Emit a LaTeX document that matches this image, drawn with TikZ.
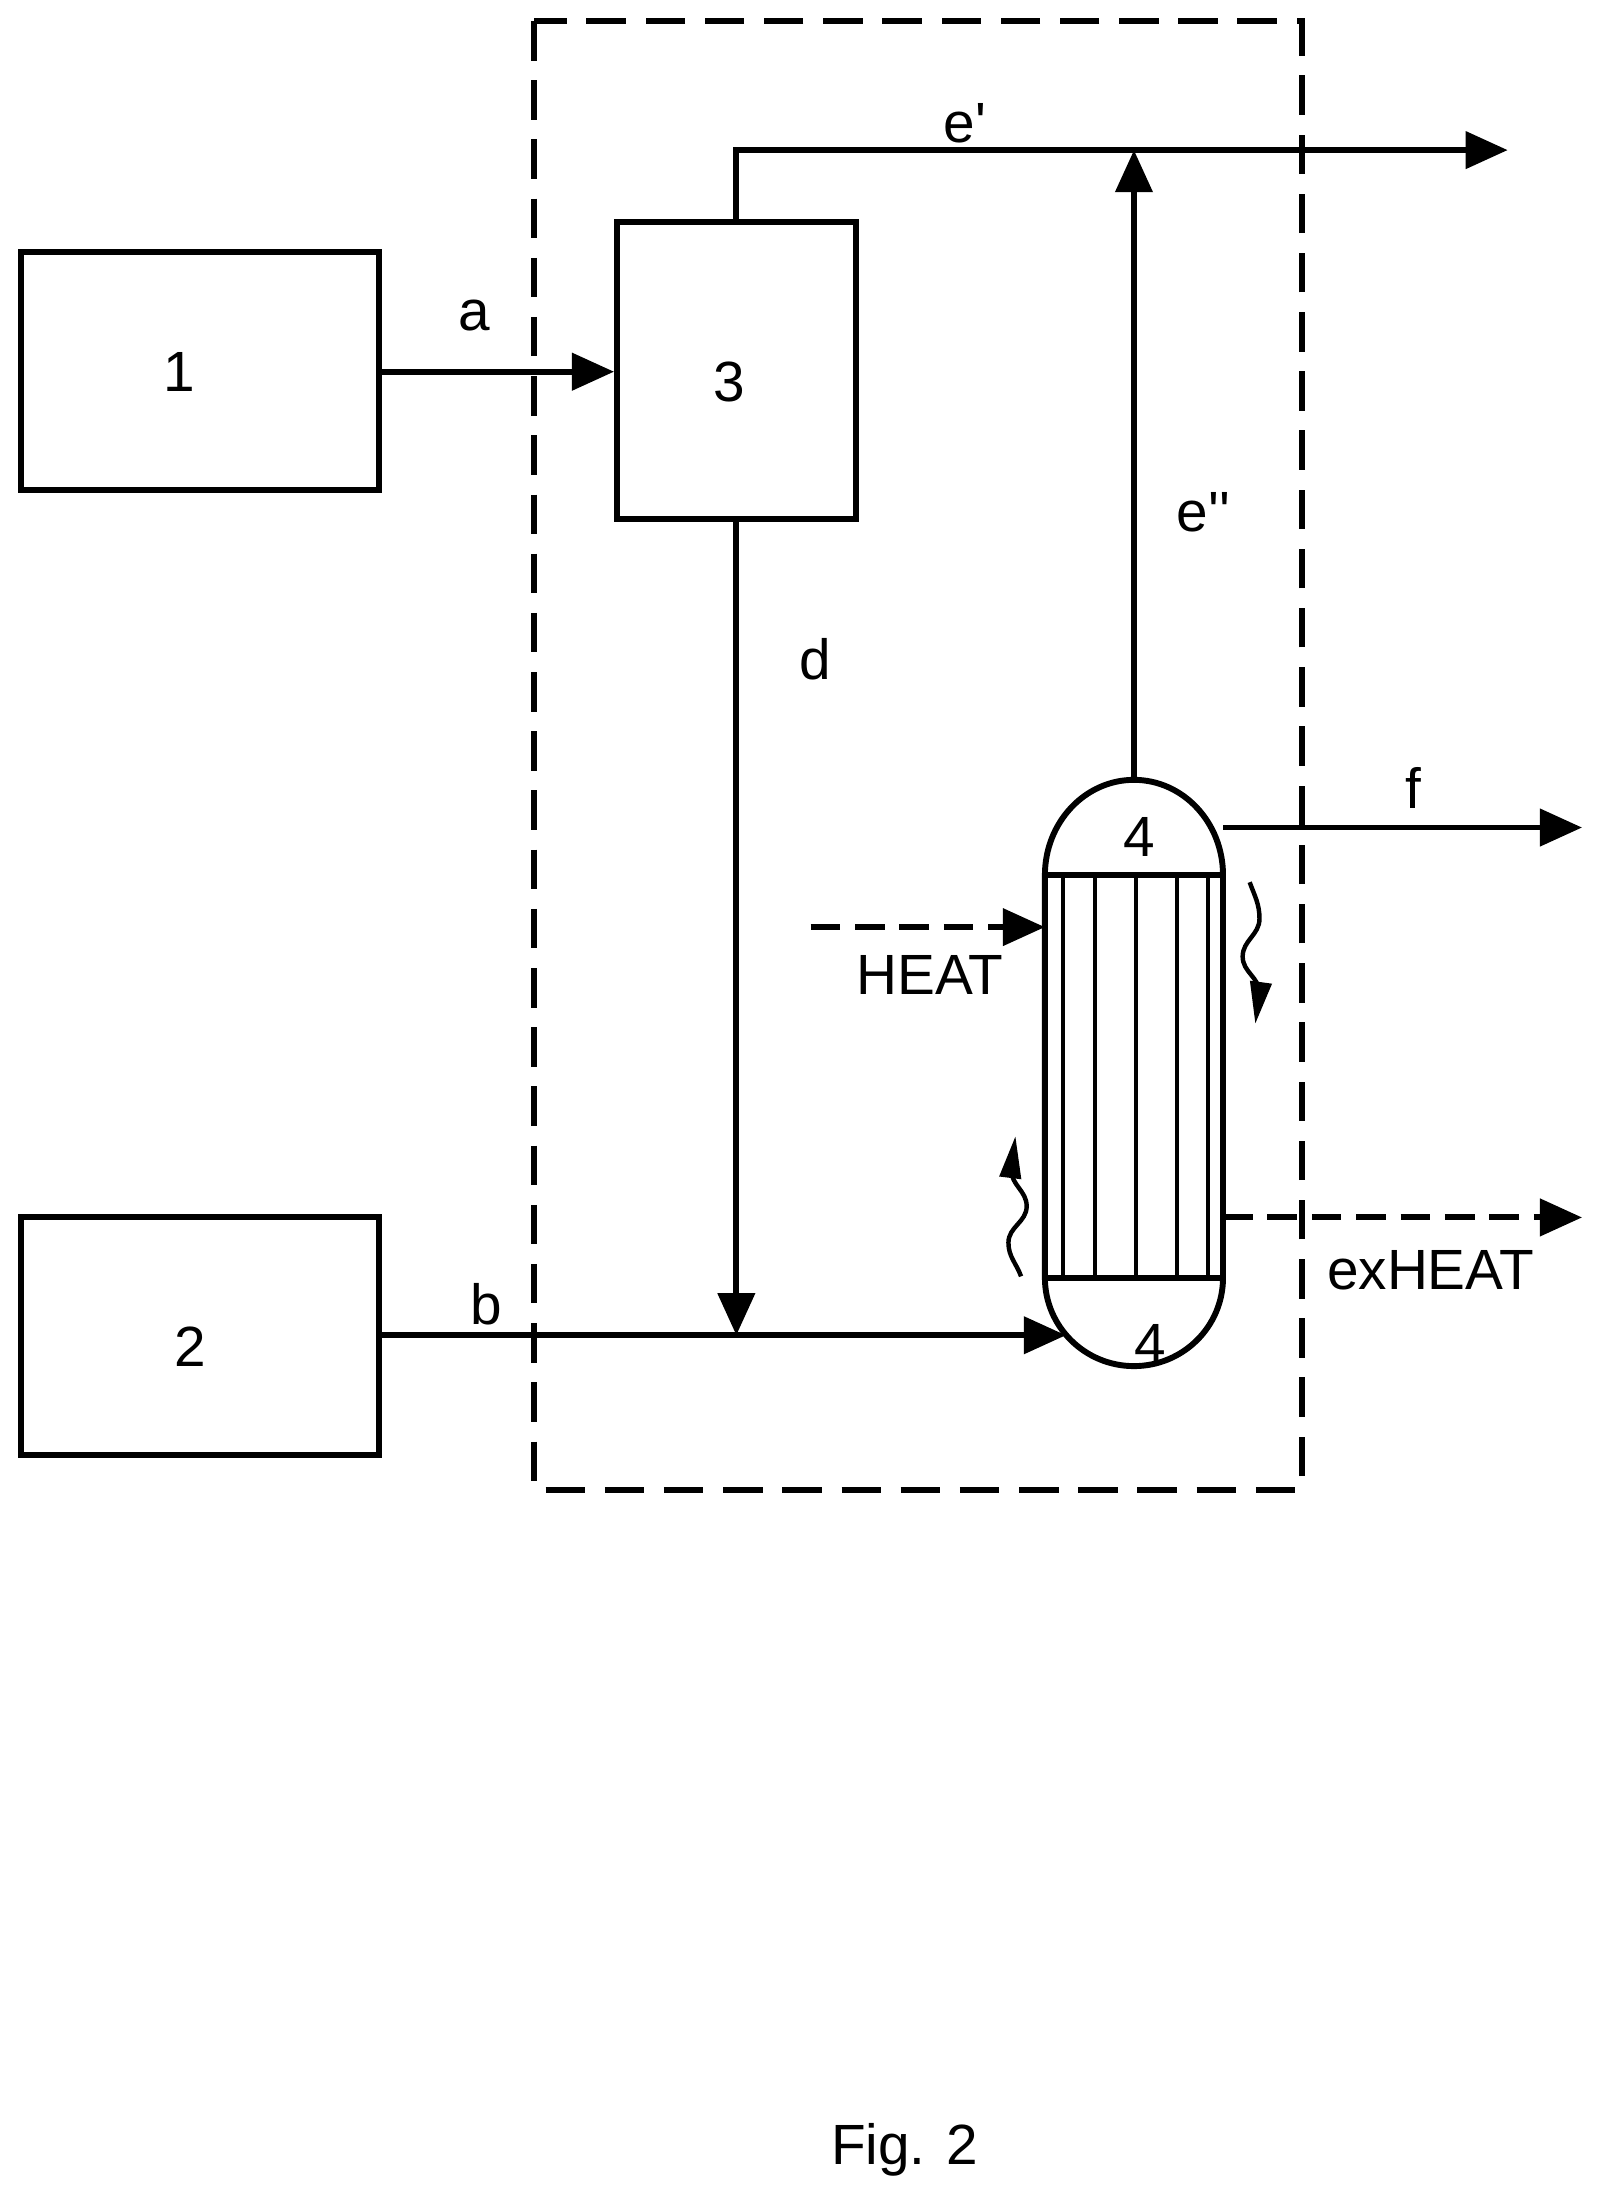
\documentclass[tikz,border=0pt]{standalone}
\usepackage{fontspec}
\setmainfont{Liberation Sans}
\usetikzlibrary{arrows.meta, positioning}

\begin{document}
\begin{tikzpicture}[
    x=0.01cm, y=-0.01cm,
    line width=1.2pt,
    every node/.style={font=\fontsize{11.5}{13}\selectfont},
    unit/.style={draw, rectangle, inner sep=0pt},
    flow/.style={-{Triangle[length=0.3cm, width=0.26cm]}},
    heatflow/.style={flow, dash pattern=on 6pt off 3pt},
    lbl/.style={inner sep=1pt}
]
    \useasboundingbox (0,0) rectangle (1140,1565);

    % units
    \node[unit, minimum width=2.55cm, minimum height=1.69cm] (u1) at (142.5,264.5) {};
    \node at (128,265) {1};
    \node[unit, minimum width=2.55cm, minimum height=1.69cm] (u2) at (142.5,952.5) {};
    \node at (136,960) {2};
    \node[unit, minimum width=1.70cm, minimum height=2.12cm] (u3) at (525,264) {};
    \node at (520,272) {3};

    % system boundary
    \draw[dash pattern=on 8pt off 4pt] (381,15) rectangle (928,1062);

    % reactor 4
    \coordinate (rtop) at (808.5,556);
    \coordinate (rbot) at (808.5,974);
    \draw (745,624) arc[start angle=180, end angle=360, x radius=63.5, y radius=68] -- (872,911)
        arc[start angle=0, end angle=180, x radius=63.5, y radius=63] -- cycle;
    \draw (745,624) -- (872,624) (745,911) -- (872,911);
    \foreach \tx in {758,781,810,839,861}
        \draw[line width=0.8pt] (\tx,624) -- (\tx,911);
    \node at (812,597) {4};
    \node at (820,958) {4};

    % streams
    \draw[flow] (u1.east |- 0,265) -- (u3.west |- 0,265);
    \node[lbl] at (338,225) {a};
    \coordinate (ejoin) at (808.5,107);
    \coordinate (eout) at (1075,107);
    \draw[flow] (rtop) -- (ejoin);
    \draw (u3.north) -- (525,107) -- (ejoin);
    \draw[flow] (ejoin) -- (eout);
    \node[lbl] at (688,88) {e\textquotesingle};
    \node[lbl] at (858,365) {e\textquotesingle\textquotesingle};
    \coordinate (mix) at (525,952);
    \draw[flow] (u3.south) -- (mix);
    \node[lbl] at (581,470) {d};
    \draw[flow] (u2.east |- 0,952) -- (760,952);
    \node[lbl] at (347,930) {b};
    \coordinate (fout) at (1128,590);
    \draw[flow] (872,590) -- (fout);
    \node[lbl] at (1008,562) {f};

    % heat
    \coordinate (hin) at (578,661);
    \draw[heatflow] (hin) -- (745,661);
    \node[lbl] at (663,695) {HEAT};
    \coordinate (hout) at (1128,868);
    \draw[heatflow] (872,868) -- (hout);
    \node[lbl] at (1020,906) {exHEAT};

    % wavy arrows
    \draw[line width=0.9pt, -{Triangle[length=0.3cm, width=0.15cm]}]
        (891,629) to[out=-70, in=90] (898,655) to[out=-90, in=90] (886,682)
        to[out=-90, in=90] (898,708) -- (895,730);
    \draw[line width=0.9pt, -{Triangle[length=0.3cm, width=0.15cm]}]
        (728,910) to[out=110, in=-90] (719,886) to[out=90, in=-90] (732,860)
        to[out=90, in=-90] (721,834) -- (724,810);

    \node at (645,1533) {Fig. 2};
\end{tikzpicture}
\end{document}
